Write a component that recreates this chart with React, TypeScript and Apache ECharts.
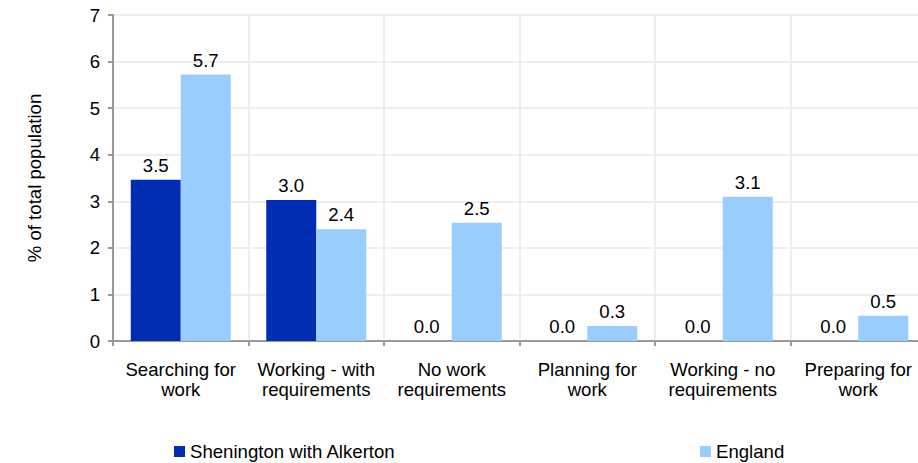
import React, { useEffect, useRef } from "react";
import * as echarts from "echarts";

const categories = [
  "Searching for\nwork",
  "Working - with\nrequirements",
  "No work\nrequirements",
  "Planning for\nwork",
  "Working - no\nrequirements",
  "Preparing for\nwork",
];
const shenington = [3.46, 3.03, 0, 0, 0, 0];
const england = [5.72, 2.4, 2.54, 0.32, 3.1, 0.54];
const seriesNames = ["Shenington with Alkerton", "England"];
const colors = ["#002DB3", "#99CCFF"];

export default function App() {
  const ref = useRef<HTMLDivElement>(null);
  useEffect(() => {
    if (!ref.current) return;
    const chart = echarts.init(ref.current, undefined, { renderer: "svg" });
    const font = "Liberation Sans, Arial, sans-serif";
    const fs = 18.6;
    const labelCfg = {
      show: true,
      position: "top" as const,
      distance: 5,
      color: "#000",
      fontSize: fs,
      fontFamily: font,
      formatter: (p: any) => Number(p.value).toFixed(1),
    };
    chart.setOption({
      animation: false,
      textStyle: { fontFamily: font },
      grid: { left: 113, top: 15, width: 813, bottom: 122, containLabel: false },
      legend: [
        {
          data: [seriesNames[0]],
          left: 174,
          top: 442,
          padding: 0,
          itemWidth: 11,
          itemHeight: 11,
          itemGap: 8,
          icon: "rect",
          textStyle: { fontSize: fs, color: "#000", fontFamily: font },
        },
        {
          data: [seriesNames[1]],
          left: 700,
          top: 442,
          padding: 0,
          itemWidth: 11,
          itemHeight: 11,
          icon: "rect",
          textStyle: { fontSize: fs, color: "#000", fontFamily: font },
        },
      ],
      xAxis: {
        type: "category",
        data: categories,
        axisLine: { show: true, lineStyle: { color: "#999", width: 2 } },
        axisTick: { show: true, length: 5, lineStyle: { color: "#999", width: 2 } },
        splitLine: { show: true, lineStyle: { color: "#eeeeee", width: 2 } },
        axisLabel: {
          color: "#000",
          fontSize: fs,
          lineHeight: 20,
          margin: 18,
          fontFamily: font,
          interval: 0,
        },
      },
      yAxis: {
        type: "value",
        min: 0,
        max: 7,
        interval: 1,
        name: "% of total population",
        nameLocation: "middle",
        nameGap: 69,
        nameTextStyle: { fontSize: fs, color: "#000", fontFamily: font },
        axisLine: { show: true, lineStyle: { color: "#999", width: 2 } },
        axisTick: { show: true, length: 5, lineStyle: { color: "#999", width: 2 } },
        splitLine: { show: true, lineStyle: { color: "#eeeeee", width: 2 } },
        axisLabel: { color: "#000", fontSize: fs, margin: 13, fontFamily: font },
      },
      series: [
        {
          name: seriesNames[0],
          type: "bar",
          data: shenington,
          barWidth: 50,
          barGap: "0%",
          itemStyle: { color: colors[0] },
          label: labelCfg,
        },
        {
          name: seriesNames[1],
          type: "bar",
          data: england,
          barWidth: 50,
          barGap: "0%",
          itemStyle: { color: colors[1] },
          label: labelCfg,
        },
      ],
    });
    return () => chart.dispose();
  }, []);
  return (
    <div style={{ position: "fixed", left: 0, top: 0, width: 918, height: 463, overflow: "hidden", background: "#fff" }}>
      <div ref={ref} style={{ position: "absolute", left: 0, top: 0, width: 934, height: 463 }} />
    </div>
  );
}
